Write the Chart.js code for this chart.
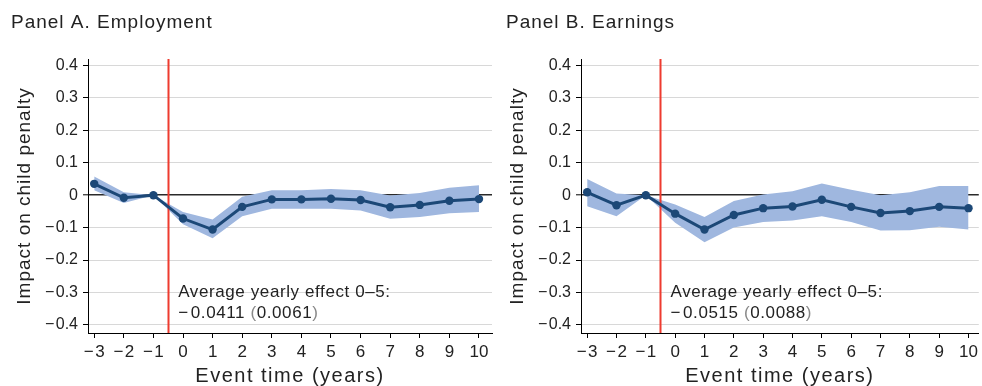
<!DOCTYPE html>
<html>
<head>
<meta charset="utf-8">
<script src="https://cdn.jsdelivr.net/npm/chart.js@4.4.1/dist/chart.umd.min.js"></script>
<style>
  html, body { margin: 0; padding: 0; background: #fff; }
  body { width: 982px; height: 386px; position: relative; overflow: hidden; }
  canvas { position: absolute; top: 0; }
  #panelA { left: 0; }
  #panelB { left: 493px; }
</style>
</head>
<body>
<canvas id="panelA" width="493" height="386"></canvas>
<canvas id="panelB" width="489" height="386"></canvas>
<script>
// Event time (years relative to the event)
const eventYears = [-3, -2, -1, 0, 1, 2, 3, 4, 5, 6, 7, 8, 9, 10];

// Panel A: employment — point estimates and 95% confidence band
const employmentEst  = [0.035, -0.008, 0, -0.072, -0.106, -0.036, -0.013, -0.013, -0.011, -0.015, -0.037, -0.030, -0.017, -0.012];
const employmentLow  = [0.015, -0.024, 0, -0.090, -0.133, -0.065, -0.042, -0.042, -0.042, -0.047, -0.073, -0.067, -0.056, -0.052];
const employmentHigh = [0.058,  0.009, 0, -0.052, -0.075, -0.005,  0.015,  0.015,  0.019,  0.015, -0.001,  0.007,  0.023,  0.031];

// Panel B: earnings — point estimates and 95% confidence band
const earningsEst  = [0.009, -0.031, 0, -0.057, -0.106, -0.061, -0.040, -0.035, -0.014, -0.036, -0.055, -0.049, -0.036, -0.040];
const earningsLow  = [-0.034, -0.065, 0, -0.085, -0.145, -0.100, -0.083, -0.078, -0.065, -0.083, -0.109, -0.108, -0.097, -0.106];
const earningsHigh = [0.050,  0.005, 0, -0.029, -0.067, -0.018,  0.002,  0.012,  0.036,  0.017,  0.000,  0.009,  0.028,  0.028];

// Axis ticks
const xTickValues = [-3, -2, -1, 0, 1, 2, 3, 4, 5, 6, 7, 8, 9, 10];
const yTickValues = [-0.4, -0.3, -0.2, -0.1, 0, 0.1, 0.2, 0.3, 0.4];

// Event marker and text
const eventLine = -0.5;
const yAxisTitle = 'Impact on child penalty';
const xAxisTitle = 'Event time (years)';

const FONT = '"Liberation Sans", Arial, Helvetica, sans-serif';
const TEXT = '#222';
const NAVY = '#1c4877';
const BAND = '#9fb7df';
const RED = '#ee3b2f';

function minusFmt(v, digits) {
  if (Math.abs(v) < 1e-9) return '0';
  const s = digits != null ? Math.abs(v).toFixed(digits) : String(Math.abs(v));
  return (v < 0 ? '\u2212\u200A' : '') + s;
}

function toPoints(vals) {
  return eventYears.map((x, i) => ({ x: x, y: vals[i] }));
}

// Draws panel title, axis titles, event line and the summary note
const panelDecor = {
  id: 'panelDecor',
  beforeDatasetDraw(chart, args, opts) {
    // the estimate line (dataset 0) is drawn last, after the band fill
    if (args.index !== 0) return;
    const { ctx, chartArea } = chart;
    const xs = chart.scales.x;
    const px = Math.round(xs.getPixelForValue(eventLine)) + 0.5;
    ctx.save();
    ctx.strokeStyle = RED;
    ctx.lineWidth = 2;
    ctx.beginPath();
    ctx.moveTo(px, chartArea.top);
    ctx.lineTo(px, chartArea.bottom);
    ctx.stroke();
    ctx.restore();
  },
  afterDraw(chart, args, opts) {
    const { ctx, chartArea } = chart;
    const xs = chart.scales.x, ys = chart.scales.y;
    ctx.save();
    ctx.fillStyle = TEXT;
    ctx.textBaseline = 'alphabetic';

    // panel title
    ctx.letterSpacing = '1px';
    ctx.font = '19px ' + FONT;
    ctx.textAlign = 'left';
    ctx.fillText(opts.title, opts.titleX, 28);

    // x axis title
    ctx.letterSpacing = '1.5px';
    ctx.font = '20px ' + FONT;
    ctx.textAlign = 'center';
    ctx.fillText(xAxisTitle, (chartArea.left + chartArea.right) / 2, 382);

    // y axis title
    ctx.save();
    ctx.letterSpacing = '1px';
    ctx.font = '19px ' + FONT;
    ctx.translate(29.5, (chartArea.top + chartArea.bottom) / 2);
    ctx.rotate(-Math.PI / 2);
    ctx.textAlign = 'center';
    ctx.fillText(yAxisTitle, 0, 0);
    ctx.restore();

    // note with the average effect
    ctx.letterSpacing = '0.6px';
    ctx.font = '17px ' + FONT;
    ctx.textAlign = 'left';
    const nx = xs.getPixelForValue(eventLine) + 10;
    const ny = ys.getPixelForValue(-0.3) + 5;
    ctx.fillText('Average yearly effect 0\u20135:', nx, ny);
    let x = nx;
    const y2 = ny + 21;
    const parts = [
      [minusFmt(opts.avg, 4) + ' ', TEXT],
      ['(', '#888'],
      [opts.se.toFixed(4), TEXT],
      [')', '#888']
    ];
    for (const [t, c] of parts) {
      ctx.fillStyle = c;
      ctx.fillText(t, x, y2);
      x += ctx.measureText(t).width;
    }
    ctx.restore();
  }
};

function makePanel(canvasId, est, low, high, title, titleX, avg, se, xMax) {
  return new Chart(document.getElementById(canvasId), {
    type: 'line',
    data: {
      datasets: [
        { data: toPoints(est), borderColor: NAVY, borderWidth: 3, pointRadius: 4.2,
          pointBackgroundColor: NAVY, pointBorderColor: NAVY, pointBorderWidth: 0, fill: false, tension: 0 },
        { data: toPoints(high), borderWidth: 0, pointRadius: 0, fill: '+1', backgroundColor: BAND, tension: 0 },
        { data: toPoints(low), borderWidth: 0, pointRadius: 0, fill: false, tension: 0 }
      ]
    },
    options: {
      responsive: false,
      animation: false,
      devicePixelRatio: 1,
      layout: { autoPadding: false, padding: { left: 0, right: 1, top: 59, bottom: 0 } },
      plugins: {
        legend: { display: false },
        tooltip: { enabled: false },
        panelDecor: { title: title, titleX: titleX, avg: avg, se: se }
      },
      scales: {
        x: {
          type: 'linear',
          min: -3.21,
          max: xMax,
          afterBuildTicks(scale) { scale.ticks = xTickValues.map(v => ({ value: v })); },
          afterFit(scale) { scale.height = 53; },
          grid: { drawOnChartArea: false, drawTicks: true, tickLength: 5, tickColor: '#000', tickWidth: 1 },
          border: { display: true, color: '#000', width: 1 },
          ticks: {
            autoSkip: false, maxRotation: 0, padding: 4,
            color: TEXT, font: { family: FONT, size: 17 },
            callback: v => minusFmt(v)
          }
        },
        y: {
          type: 'linear',
          min: -0.425,
          max: 0.42,
          afterBuildTicks(scale) { scale.ticks = yTickValues.map(v => ({ value: v })); },
          afterFit(scale) { scale.width = 88; },
          grid: {
            color: c => (c.tick && Math.abs(c.tick.value) < 1e-9) ? '#2a2a2a' : '#d8d8d8',
            lineWidth: c => (c.tick && Math.abs(c.tick.value) < 1e-9) ? 1.6 : 1,
            drawTicks: true, tickLength: 5, tickColor: '#000', tickWidth: 1
          },
          border: { display: true, color: '#000', width: 1 },
          ticks: {
            autoSkip: false, padding: 5,
            color: TEXT, font: { family: FONT, size: 16 },
            callback: v => minusFmt(v, 1)
          }
        }
      }
    },
    plugins: [panelDecor]
  });
}

makePanel('panelA', employmentEst, employmentLow, employmentHigh, 'Panel A. Employment', 11, -0.0411, 0.0061, 10.44);
makePanel('panelB', earningsEst, earningsLow, earningsHigh, 'Panel B. Earnings', 13, -0.0515, 0.0088, 10.35);
</script>
</body>
</html>
